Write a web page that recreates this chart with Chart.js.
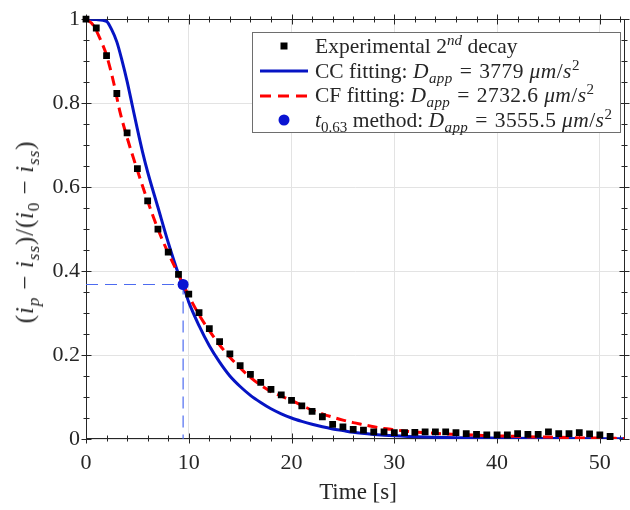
<!DOCTYPE html>
<html>
<head>
<meta charset="utf-8">
<title>Second decay fitting</title>
<script src="https://cdn.jsdelivr.net/npm/chart.js"></script>
<style>
    body { margin: 0; background: #fff; }
    .wrap {
        position: relative;
        width: 630px;
        height: 510px;
        font-family: 'Liberation Serif', serif;
        color: #262626;
    }
    canvas { position: absolute; left: 0; top: 0; }
    .ytitle {
        position: absolute;
        left: 25px;
        top: 232px;
        transform: translate(-50%, -50%) rotate(-90deg);
        white-space: nowrap;
        font-size: 25px;
        letter-spacing: 0.8px;
    }
    .ytitle .op { margin: 0 7px; }
    .xtitle {
        position: absolute;
        left: 358px;
        top: 492px;
        transform: translate(-50%, -50%);
        white-space: nowrap;
        font-size: 23px;
    }
    .legend {
        position: absolute;
        left: 252px;
        top: 32px;
        width: 369px;
        height: 101px;
        box-sizing: border-box;
        border: 1px solid #6e6e6e;
        background: #fff;
        padding-top: 1px;
    }
    .legend .row {
        height: 24.7px;
        display: flex;
        align-items: center;
        white-space: nowrap;
        font-size: 21.5px;
    }
    .legend .m { letter-spacing: 0.4px; }
    .legend .eq { margin: 0 7px; }
    .legend svg { flex: none; width: 48px; height: 20px; margin-left: 7px; margin-right: 7px; }
    sub, sup { font-size: 70%; line-height: 0; }
</style>
</head>
<body>
<div class="wrap">
    <canvas id="decayChart" width="630" height="510"></canvas>
    <div class="ytitle">(<i>i</i><sub><i>p</i></sub><span class="op">&minus;</span><i>i</i><sub><i>ss</i></sub>)/(<i>i</i><sub>0</sub><span class="op">&minus;</span><i>i</i><sub><i>ss</i></sub>)</div>
    <div class="xtitle">Time [s]</div>
    <div class="legend">
        <div class="row">
            <svg viewBox="0 0 48 20"><rect x="20.5" y="6.5" width="7" height="7" fill="#000"/></svg>
            <span>Experimental 2<sup><i>nd</i></sup> decay</span>
        </div>
        <div class="row">
            <svg viewBox="0 0 48 20"><line x1="0" y1="10" x2="48" y2="10" stroke="#0614c4" stroke-width="3"/></svg>
            <span>CC fitting: <span class="m"><i>D</i><sub><i>app</i></sub><span class="eq">=</span>3779 <i>&mu;m</i>/<i>s</i><sup>2</sup></span></span>
        </div>
        <div class="row">
            <svg viewBox="0 0 48 20"><line x1="0" y1="10" x2="48" y2="10" stroke="#ff0000" stroke-width="3" stroke-dasharray="11 7"/></svg>
            <span>CF fitting: <span class="m"><i>D</i><sub><i>app</i></sub><span class="eq">=</span>2732.6 <i>&mu;m</i>/<i>s</i><sup>2</sup></span></span>
        </div>
        <div class="row">
            <svg viewBox="0 0 48 20"><circle cx="24" cy="10" r="5.5" fill="#0a14d2"/></svg>
            <span><i>t</i><sub>0.63</sub> method: <span class="m"><i>D</i><sub><i>app</i></sub><span class="eq">=</span>3555.5 <i>&mu;m</i>/<i>s</i><sup>2</sup></span></span>
        </div>
    </div>
</div>

<script>
    // experimental points (one every second)
    const expTime = [0, 1, 2, 3, 4, 5, 6, 7, 8, 9,
        10, 11, 12, 13, 14, 15, 16, 17, 18, 19,
        20, 21, 22, 23, 24, 25, 26, 27, 28, 29,
        30, 31, 32, 33, 34, 35, 36, 37, 38, 39,
        40, 41, 42, 43, 44, 45, 46, 47, 48, 49,
        50, 51];
    const expValue = [1.0, 0.979, 0.913, 0.823, 0.729, 0.644, 0.567, 0.500, 0.445, 0.392,
        0.345, 0.301, 0.263, 0.232, 0.203, 0.175, 0.154, 0.135, 0.118, 0.105,
        0.092, 0.079, 0.066, 0.053, 0.035, 0.029, 0.023, 0.021, 0.017, 0.017,
        0.015, 0.015, 0.016, 0.017, 0.017, 0.017, 0.015, 0.013, 0.011, 0.010,
        0.010, 0.0095, 0.013, 0.011, 0.011, 0.017, 0.013, 0.013, 0.015, 0.012,
        0.0095, 0.006];

    // CC fitting curve (blue)
    const ccTime = [0, 1, 2, 2.5, 3, 3.5, 4, 4.5, 5, 5.5, 6, 7, 8, 9, 9.45, 10, 11, 12, 13, 14,
        15, 16, 17, 18, 19, 20, 21, 22, 23, 24, 25, 26, 28, 30, 33, 36, 40, 46, 52.4];
    const ccValue = [1.0, 0.999, 0.995, 0.975, 0.946, 0.902, 0.852, 0.795, 0.738, 0.684, 0.636, 0.552, 0.468, 0.393, 0.366, 0.326, 0.270, 0.222, 0.183, 0.150,
        0.125, 0.104, 0.087, 0.072, 0.060, 0.050, 0.042, 0.035, 0.029, 0.024, 0.020, 0.016, 0.011, 0.0075, 0.0045, 0.003, 0.002, 0.001, 0.0005];

    // CF fitting curve (red dashed)
    const cfTime = [0, 0.7, 1.5, 2, 2.7, 3.3, 4, 5, 6, 7, 8, 9, 9.45, 10, 11, 12, 13, 14, 15, 16,
        17, 18, 19, 20, 21, 22, 23, 24, 25, 26, 27, 28, 29, 30, 31, 32, 33, 35, 37, 39,
        41, 43, 45, 47, 49, 52.4];
    const cfValue = [1.0, 0.986, 0.946, 0.914, 0.848, 0.780, 0.718, 0.640, 0.567, 0.500, 0.443, 0.392, 0.368, 0.341, 0.296, 0.258, 0.224, 0.195, 0.169, 0.147,
        0.128, 0.113, 0.102, 0.092, 0.080, 0.069, 0.060, 0.052, 0.045, 0.039, 0.034, 0.029, 0.025, 0.022, 0.019, 0.017, 0.015, 0.012, 0.010, 0.008,
        0.0068, 0.0055, 0.0045, 0.0033, 0.0024, 0.0012];

    // t0.63 method point
    const t063 = 9.45;
    const level063 = 0.368;

    // axes
    const xMin = 0, xMax = 52.4, xStep = 10, xMinorStep = 2;
    const yMin = 0, yMax = 1, yStep = 0.2, yMinorStep = 0.05;

    const axisColor = '#262626';
    const tickFont = { family: 'Liberation Serif', size: 22 };

    function pairs(xs, ys) {
        return xs.map((x, i) => ({ x: x, y: ys[i] }));
    }

    // matlab style box with ticks on both sides of every edge
    const matlabBox = {
        id: 'matlabBox',
        beforeDatasetsDraw(chart) {
            const { ctx, chartArea: a, scales } = chart;
            const sx = scales.x, sy = scales.y;
            const L = Math.round(a.left) + 0.5, R = Math.round(a.right) - 0.5;
            const T = Math.round(a.top) + 0.5, B = Math.round(a.bottom) - 0.5;
            ctx.save();
            ctx.strokeStyle = axisColor;
            ctx.lineWidth = 1;
            ctx.strokeRect(L, T, R - L, B - T);
            ctx.beginPath();
            const nx = Math.floor((xMax - xMin) / xMinorStep + 1e-9);
            for (let i = 0; i <= nx; i++) {
                const v = xMin + i * xMinorStep;
                const px = Math.round(sx.getPixelForValue(v)) + 0.5;
                const len = (i % (xStep / xMinorStep) === 0) ? 5 : 3;
                ctx.moveTo(px, B - len); ctx.lineTo(px, B + len);
                ctx.moveTo(px, T - len); ctx.lineTo(px, T + len);
            }
            const ny = Math.round((yMax - yMin) / yMinorStep);
            for (let i = 0; i <= ny; i++) {
                const v = yMin + i * yMinorStep;
                const py = Math.round(sy.getPixelForValue(v)) + 0.5;
                const len = (i % Math.round(yStep / yMinorStep) === 0) ? 5 : 3;
                ctx.moveTo(L - len, py); ctx.lineTo(L + len, py);
                ctx.moveTo(R - len, py); ctx.lineTo(R + len, py);
            }
            ctx.stroke();
            ctx.restore();
        }
    };

    new Chart(document.getElementById('decayChart'), {
        type: 'line',
        data: {
            datasets: [
                {
                    label: 't0.63',
                    data: [{ x: t063, y: level063 }],
                    showLine: false,
                    pointStyle: 'circle',
                    pointRadius: 5.5,
                    pointBackgroundColor: '#0a14d2',
                    pointBorderWidth: 0,
                    clip: 8,
                    order: 1
                },
                {
                    label: 'Experimental',
                    data: pairs(expTime, expValue),
                    showLine: false,
                    pointStyle: 'rect',
                    pointRadius: 4.8,
                    pointBackgroundColor: '#000',
                    pointBorderWidth: 0,
                    clip: 8,
                    order: 2
                },
                {
                    label: 'CF fitting',
                    data: pairs(cfTime, cfValue),
                    borderColor: '#ff0000',
                    borderWidth: 3,
                    borderDash: [10, 6],
                    pointRadius: 0,
                    cubicInterpolationMode: 'monotone',
                    order: 3
                },
                {
                    label: 'CC fitting',
                    data: pairs(ccTime, ccValue),
                    borderColor: '#0614c4',
                    borderWidth: 3,
                    pointRadius: 0,
                    cubicInterpolationMode: 'monotone',
                    order: 4
                },
                {
                    label: 'guide',
                    data: [{ x: xMin, y: level063 }, { x: t063, y: level063 }, { x: t063, y: yMin }],
                    borderColor: '#4d6bf0',
                    borderWidth: 1.2,
                    borderDash: [12, 7],
                    pointRadius: 0,
                    tension: 0,
                    order: 5
                }
            ]
        },
        options: {
            responsive: false,
            animation: false,
            layout: { padding: { left: 0, top: 18, right: 1, bottom: 0 } },
            plugins: {
                legend: { display: false },
                tooltip: { enabled: false }
            },
            scales: {
                x: {
                    type: 'linear',
                    min: xMin,
                    max: xMax,
                    border: { display: false },
                    grid: { color: '#e3e3e3', drawTicks: false },
                    ticks: {
                        stepSize: xStep,
                        includeBounds: false,
                        maxRotation: 0,
                        padding: 11,
                        color: axisColor,
                        font: tickFont
                    },
                    afterFit(scale) { scale.height = 71; }
                },
                y: {
                    min: yMin,
                    max: yMax,
                    border: { display: false },
                    grid: { color: '#e3e3e3', drawTicks: false },
                    ticks: {
                        stepSize: yStep,
                        padding: 6,
                        color: axisColor,
                        font: tickFont,
                        callback: (v) => String(Number(v.toFixed(2)))
                    },
                    afterFit(scale) { scale.width = 86; }
                }
            }
        },
        plugins: [matlabBox]
    });
</script>
</body>
</html>
